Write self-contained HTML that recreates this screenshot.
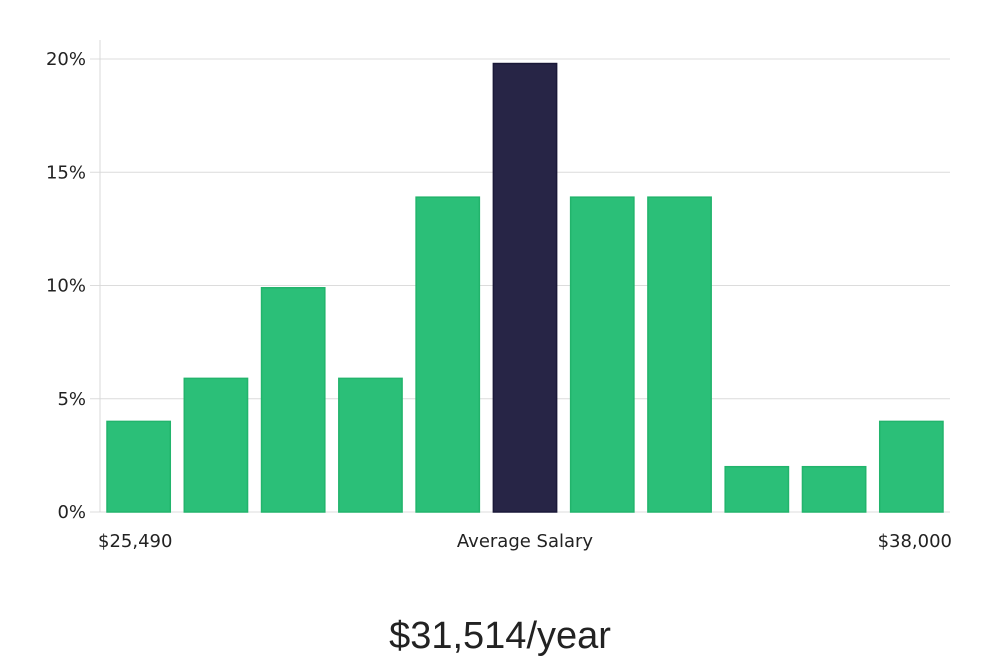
<!DOCTYPE html>
<html><head><meta charset="utf-8"><style>
body{margin:0;background:#fff;width:1000px;height:660px;overflow:hidden;font-family:"DejaVu Sans","Liberation Sans",sans-serif;}
</style></head><body>
<svg width="1000" height="660">
<g id="grid"></g>
<g id="bars"></g>
<g id="yt"></g>
<line x1="100" y1="40" x2="100" y2="512" stroke="#d8d8d8"/>
<text x="98" y="547" font-size="18" fill="#222">$25,490</text>
<text x="525" y="547" font-size="18" fill="#222" text-anchor="middle">Average Salary</text>
<text x="952" y="547" font-size="18" fill="#222" text-anchor="end">$38,000</text>
<text x="500" y="648" font-size="38" fill="#222" text-anchor="middle" font-family="Liberation Sans, sans-serif">$31,514/year</text>
</svg>
<script>
const values=[4,5.9,9.9,5.9,13.9,19.8,13.9,13.9,2,2,4];
const highlight=[0,0,0,0,0,1,0,0,0,0,0];
const yTicks=[0,5,10,15,20];
const yTickLabels=["0%","5%","10%","15%","20%"];
const NS="http://www.w3.org/2000/svg";
const x0=100,x1=950,yb=512,yt=59;
const y=v=>yb-(v/20)*(yb-yt);
const band=(x1-x0)/values.length;
const g=document.getElementById('grid'),b=document.getElementById('bars'),t=document.getElementById('yt');
yTicks.forEach((v,i)=>{
 const l=document.createElementNS(NS,'line');
 
 
 l.setAttribute('x1',x0-10);l.setAttribute('x2',x1);l.setAttribute('y1',y(v));l.setAttribute('y2',y(v));
 l.setAttribute('stroke','#dcdcdc');g.appendChild(l);
 const tx=document.createElementNS(NS,'text');
 
 
 tx.setAttribute('x',86);tx.setAttribute('y',y(v)+6);tx.setAttribute('text-anchor','end');
 tx.setAttribute('font-size','18');tx.setAttribute('fill','#222');tx.textContent=yTickLabels[i];t.appendChild(tx);
});
values.forEach((v,i)=>{
 const r=document.createElementNS(NS,'rect');
 
 
 r.setAttribute('x',x0+i*band+7);r.setAttribute('width',band-14);
 r.setAttribute('y',y(v));r.setAttribute('height',yb-y(v));
 r.setAttribute('fill',highlight[i]?'#272546':'#2bbf78');
 r.setAttribute('stroke',highlight[i]?'#1a1838':'#22b46c');r.setAttribute('stroke-width','1.5');
 b.appendChild(r);
});
</script>
</body></html>
